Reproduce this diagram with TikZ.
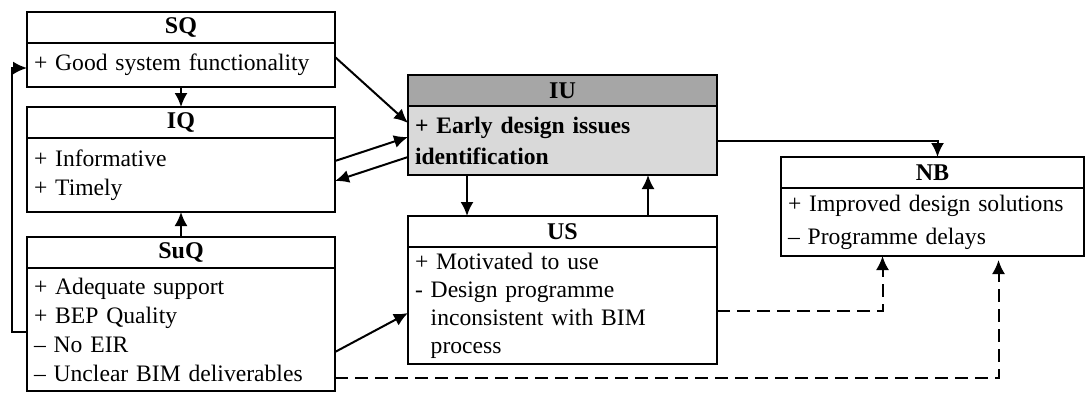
\documentclass[tikz,border=0pt]{standalone}
\usepackage{fontspec}
\setmainfont{Liberation Serif}
\usetikzlibrary{arrows.meta}
\definecolor{hdrgray}{HTML}{A6A6A6}
\definecolor{bdygray}{HTML}{D9D9D9}

\begin{document}
\begin{tikzpicture}[x=0.5pt,y=-0.5pt,->,>={Latex[length=7pt,width=6.5pt]},
                    line width=1pt]
  \tikzstyle{hdr}=[draw,line width=0.7pt,anchor=north west,minimum width=154pt,
                   minimum height=15.5pt,inner sep=0pt,outer sep=0pt,
                   font=\fontsize{12}{14.5}\selectfont\bfseries]
  \tikzstyle{bdy}=[draw,line width=0.7pt,anchor=north west,text width=147pt,
                   inner xsep=3.5pt,inner ysep=0pt,outer sep=0pt,align=left,
                   font=\fontsize{11.8}{14.5}\selectfont]
  \tikzstyle{weak}=[dash pattern=on 6.5pt off 3.5pt]

  \useasboundingbox (0,0) rectangle (1085,392);

  % left column
  \node[hdr] (SQ) at (27,12) {SQ};
  \node[bdy,minimum height=22pt] (SQb) at (SQ.south west) {+ Good system functionality};
  \node[hdr] (IQ) at (27,107) {IQ};
  \node[bdy,minimum height=37pt] (IQb) at (IQ.south west) {+ Informative\\+ Timely};
  \node[hdr] (SuQ) at (27,237) {SuQ};
  \node[bdy,minimum height=61.5pt] (SuQb) at (SuQ.south west)
       {+ Adequate support\\+ BEP Quality\\– No EIR\\– Unclear BIM deliverables};

  % middle column
  \node[hdr,minimum width=154.5pt,fill=hdrgray] (IU) at (408,75) {IU};
  \node[bdy,text width=147.5pt,minimum height=34.5pt,fill=bdygray,
        font=\fontsize{11.8}{15.5}\selectfont\bfseries] (IUb) at (IU.south west)
       {+ Early design issues\\identification};
  \node[hdr,minimum width=154.5pt] (US) at (408,216) {US};
  \node[bdy,text width=147.5pt,minimum height=58.5pt,
        font=\fontsize{11.8}{14}\selectfont] (USb) at (US.south west)
       {+ Motivated to use\\- Design programme\\\hphantom{-\ }inconsistent with BIM\\\hphantom{-\ }process};

  % right column
  \node[hdr,minimum width=151.5pt] (NB) at (781,157) {NB};
  \node[bdy,text width=144.5pt,minimum height=34pt,
        font=\fontsize{11.8}{16.5}\selectfont] (NBb) at (NB.south west)
       {+ Improved design solutions\\– Programme delays};

  % links
  \draw (SQb.south) -- (IQ.north);
  \draw (SuQ.north) -- (IQb.south);
  \draw ([yshift=4pt]SQb.east) -- ([yshift=8.75pt]IUb.west);
  \draw ([yshift=7pt]IQb.east) -- ([yshift=1.75pt]IUb.west);
  \draw ([yshift=-8.25pt]IUb.west) -- ([yshift=-3pt]IQb.east);
  \draw ([xshift=-47.75pt]IUb.south) -- ([xshift=-47.75pt]US.north);
  \draw ([xshift=42.75pt]US.north) -- ([xshift=42.75pt]IUb.south);
  \draw (IUb.east) -| ([xshift=2.5pt]NB.north);
  \draw ([yshift=-11.25pt]SuQb.east) -- ([yshift=-3.75pt]USb.west);
  \draw ([yshift=-1.25pt]SuQb.west) -- ++(-15,0) |- ([yshift=-1.5pt]SQb.west);
  \draw[weak] ([yshift=-2.75pt]USb.east) -| ([xshift=-25pt]NBb.south);
  \draw[weak,shorten >=2pt] ([yshift=-24.25pt]SuQb.east) -| ([xshift=33pt]NBb.south);
\end{tikzpicture}
\end{document}
